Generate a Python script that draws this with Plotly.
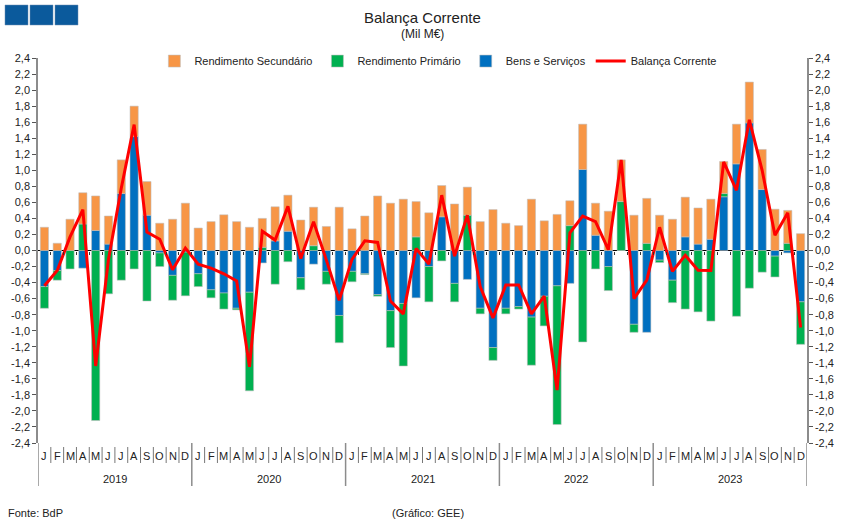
import plotly.graph_objects as go

months = ["J", "F", "M", "A", "M", "J", "J", "A", "S", "O", "N", "D"]
years = ["2019", "2020", "2021", "2022", "2023"]

bens_servicos = [
    -0.45, -0.25, 0.00, -0.22, 0.25, 0.08, 0.71, 1.42, 0.44, -0.03, -0.31, -0.02,
    -0.29, -0.49, -0.53, -0.72, -0.52, -0.155, 0.12, 0.24, -0.34, -0.17, -0.26, -0.81,
    -0.26, -0.29, -0.55, -0.75, -0.66, -0.59, -0.20, 0.42, -0.41, -0.36, -0.72, -1.21,
    -0.72, -0.70, -0.83, -0.57, -0.44, -0.41, 1.01, 0.19, -0.20, 0.00, -0.92, -1.02,
    -0.12, -0.37, 0.17, 0.08, 0.14, 0.67, 1.08, 1.59, 0.76, -0.07, -0.03, -0.64,
]
rend_primario = [
    -0.27, -0.12, -0.23, 0.33, -2.12, -0.54, -0.37, -0.23, -0.63, -0.17, -0.31, -0.545,
    -0.16, -0.10, -0.20, -0.02, -1.23, 0.04, -0.42, -0.14, -0.15, 0.06, -0.16, -0.34,
    -0.13, -0.01, -0.02, -0.46, -0.78, 0.17, -0.44, -0.13, -0.23, 0.44, -0.07, -0.16,
    -0.07, -0.03, -0.60, -0.37, -1.73, 0.31, -1.14, -0.23, -0.30, 0.61, -0.10, 0.09,
    -0.03, -0.28, -0.73, -0.765, -0.88, 0.04, -0.82, -0.47, -0.27, -0.26, 0.09, -0.53,
]
rend_secundario = [
    0.29, 0.09, 0.39, 0.39, 0.43, 0.35, 0.42, 0.38, 0.42, 0.34, 0.39, 0.59,
    0.28, 0.36, 0.445, 0.36, 0.29, 0.36, 0.425, 0.45, 0.38, 0.48, 0.30, 0.54,
    0.27, 0.43, 0.68, 0.59, 0.64, 0.44, 0.47, 0.39, 0.58, 0.35, 0.36, 0.51,
    0.34, 0.31, 0.64, 0.37, 0.45, 0.31, 0.565, 0.40, 0.49, 0.52, 0.44, 0.56,
    0.44, 0.39, 0.495, 0.45, 0.50, 0.40, 0.495, 0.51, 0.50, 0.515, 0.41, 0.21,
]
balanca_corrente = [
    -0.44, -0.25, 0.17, 0.51, -1.44, -0.11, 0.78, 1.57, 0.23, 0.14, -0.24, 0.03,
    -0.17, -0.22, -0.29, -0.38, -1.45, 0.24, 0.13, 0.55, -0.10, 0.36, -0.12, -0.62,
    -0.11, 0.12, 0.10, -0.63, -0.79, 0.025, -0.17, 0.69, -0.07, 0.44, -0.45, -0.84,
    -0.43, -0.43, -0.79, -0.57, -1.74, 0.22, 0.43, 0.36, 0.01, 1.13, -0.60, -0.37,
    0.29, -0.26, -0.06, -0.245, -0.25, 1.105, 0.75, 1.63, 1.00, 0.19, 0.47, -0.96,
]
y_ticks = [round(-2.4 + 0.2 * i, 1) for i in range(25)]
y_ticktext = [f"{v:.1f}".replace(".", ",") for v in y_ticks]

n = len(balanca_corrente)
x = list(range(n))
FONT = "Liberation Sans, Arial, sans-serif"
TXT = "#222222"
bar_line = dict(color="rgba(190,190,190,0.7)", width=0.8)

fig = go.Figure()
fig.add_trace(go.Bar(x=x, y=bens_servicos, name="Bens e Serviços", marker=dict(color="#0070C0", line=bar_line), legendrank=3))
fig.add_trace(go.Bar(x=x, y=rend_primario, name="Rendimento Primário", marker=dict(color="#00B050", line=bar_line), legendrank=2))
fig.add_trace(go.Bar(x=x, y=rend_secundario, name="Rendimento Secundário", marker=dict(color="#F79646", line=bar_line), legendrank=1))
fig.add_trace(go.Scatter(x=x, y=balanca_corrente, name="Balança Corrente", mode="lines",
                         line=dict(color="#FF0000", width=3), legendrank=4))
# helper traces so overlay axes (zero-line ticks, right axis) are drawn
fig.add_trace(go.Scatter(x=[0], y=[0], xaxis="x2", yaxis="y2", mode="markers",
                         marker=dict(opacity=0), showlegend=False, hoverinfo="skip"))

fig.update_layout(
    width=851, height=527,
    margin=dict(l=38, r=44, t=58, b=84),
    paper_bgcolor="white", plot_bgcolor="white",
    barmode="relative", bargap=0.36,
    font=dict(family=FONT, size=11, color=TXT),
    showlegend=True,
    legend=dict(orientation="h", x=0.52, xanchor="center", y=0.992, yanchor="middle",
                font=dict(size=11, color=TXT), traceorder="normal", itemwidth=30,
                bgcolor="rgba(0,0,0,0)"),
    xaxis=dict(range=[-0.5, n - 0.5], showticklabels=False, ticks="", showline=False,
               showgrid=False, zeroline=False, fixedrange=True),
    xaxis2=dict(range=[-0.5, n - 0.5], overlaying="x", anchor="free", position=0.5,
                showline=False, showgrid=False, zeroline=False, showticklabels=False,
                ticks="outside", ticklen=3, tickwidth=1, tickcolor="#333333",
                tickvals=[i + 0.5 for i in range(n - 1)]),
    yaxis=dict(range=[-2.4, 2.4], tickvals=y_ticks, ticktext=y_ticktext,
               showgrid=False, zeroline=True, zerolinecolor="#000000", zerolinewidth=1,
               showline=True, linecolor="#8c8c8c", linewidth=1.5,
               ticks="outside", ticklen=4, tickcolor="#555555",
               tickfont=dict(size=11, color=TXT)),
    yaxis2=dict(range=[-2.4, 2.4], tickvals=y_ticks, ticktext=y_ticktext,
                overlaying="y", side="right", anchor="x",
                showgrid=False, zeroline=False,
                showline=True, linecolor="#8c8c8c", linewidth=1.5,
                ticks="outside", ticklen=4, tickcolor="#555555",
                tickfont=dict(size=11, color=TXT)),
)

# bottom category axis: month labels, year labels and separators
ph = 385.0
def py(px):
    return (443 - px) / ph

shapes = []
annotations = []
for i in range(n):
    annotations.append(dict(x=i, y=py(456), xref="x", yref="paper", text=months[i % 12],
                            showarrow=False, font=dict(size=11, color=TXT),
                            xanchor="center", yanchor="middle"))
for k in range(1, n):
    if k % 12 == 0:
        continue
    shapes.append(dict(type="line", xref="x", yref="paper", x0=k - 0.5, x1=k - 0.5,
                       y0=py(447), y1=py(463), line=dict(color="#777777", width=1)))
for j in range(len(years) + 1):
    xs = j * 12 - 0.5
    shapes.append(dict(type="line", xref="x", yref="paper", x0=xs, x1=xs,
                       y0=py(443), y1=py(486), line=dict(color="#8c8c8c", width=1.5)))
for j, yr in enumerate(years):
    annotations.append(dict(x=j * 12 + 5.5, y=py(479), xref="x", yref="paper", text=yr,
                            showarrow=False, font=dict(size=11, color=TXT),
                            xanchor="center", yanchor="middle"))

# logo squares
for k in range(3):
    shapes.append(dict(type="rect", xref="paper", yref="paper",
                       x0=(5 + 25 * k - 38) / 769.0, x1=(28 + 25 * k - 38) / 769.0,
                       y0=py(25), y1=py(5), fillcolor="#0B5A9C",
                       line=dict(color="#6f8fb0", width=0.5)))

annotations += [
    dict(x=(422 - 38) / 769.0, y=py(17), xref="paper", yref="paper", text="Balança Corrente",
         showarrow=False, font=dict(size=15, color=TXT), xanchor="center", yanchor="middle"),
    dict(x=(422 - 38) / 769.0, y=py(34), xref="paper", yref="paper", text="(Mil M€)",
         showarrow=False, font=dict(size=12, color=TXT), xanchor="center", yanchor="middle"),
    dict(x=(6 - 38) / 769.0, y=py(513), xref="paper", yref="paper", text="Fonte: BdP",
         showarrow=False, font=dict(size=11, color=TXT), xanchor="left", yanchor="middle"),
    dict(x=(428 - 38) / 769.0, y=py(513), xref="paper", yref="paper", text="(Gráfico: GEE)",
         showarrow=False, font=dict(size=11, color=TXT), xanchor="center", yanchor="middle"),
]
fig.update_layout(shapes=shapes, annotations=annotations)

fig.write_html("out.html")
